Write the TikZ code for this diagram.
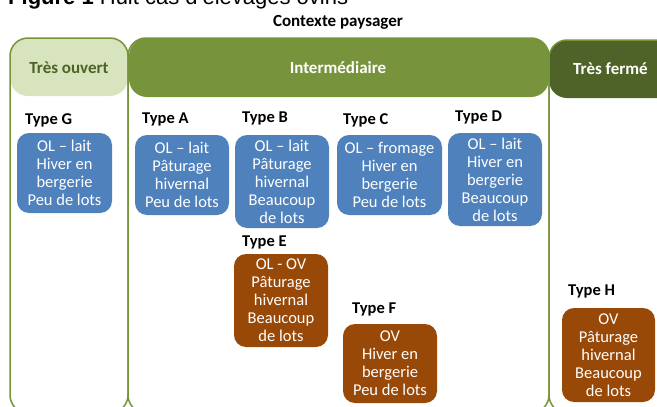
\documentclass[tikz,border=0pt]{standalone}
\usepackage{fontspec}
\setmainfont{Carlito}
\newfontfamily\titlefont{Liberation Sans}
\usetikzlibrary{positioning}
\definecolor{olive}{HTML}{77933C}
\definecolor{paleolive}{HTML}{D7E4BD}
\definecolor{darkolive}{HTML}{4F6228}
\definecolor{typeblue}{HTML}{4F81BD}
\definecolor{typebrown}{HTML}{984807}
\tikzset{column/.style={draw=olive,line width=1.5pt,rounded corners=18pt}}
\tikzset{header/.style={rounded corners=18pt}}
\tikzset{headtext/.style={font=\bfseries\fontsize{17}{18}\selectfont}}
\tikzset{typelabel/.style={anchor=west,inner sep=0pt,font=\bfseries\fontsize{16.5}{18}\selectfont}}
\tikzset{farm/.style={rounded corners=12pt,inner sep=0pt,align=center,text=white,font=\fontsize{16.5}{18}\selectfont}}
\tikzset{bluefarm/.style={farm,fill=typeblue}}
\tikzset{brownfarm/.style={farm,fill=typebrown}}

\begin{document}
\begin{tikzpicture}[x=1pt,y=-1pt]
    \useasboundingbox (0,0) rectangle (657,407);
    \clip (0,0) rectangle (657,407);

    % Title (cut at the top)
    \node [anchor=base west,inner sep=0pt,font=\titlefont\fontsize{22}{26}\selectfont] (title) at (8,4) {\textbf{Figure 1} Huit cas d’élevages ovins};
    \node [headtext] (context) at (338,22) {Contexte paysager};

    % Headers
    \fill [paleolive,header] (10,38) rectangle (128,96);
    \fill [olive,header] (129,38) rectangle (549,97);
    \fill [darkolive,header] (549,40) rectangle (690,98);

    % Columns
    \draw [column] (10,38) rectangle (128,413);
    \draw [column] (128,38) rectangle (549,413);
    \draw [column] (549,40) rectangle (690,413);

    \node [headtext,text=darkolive] (open) at (69,68) {Très ouvert};
    \node [headtext,text=white] (middle) at (338,68) {Intermédiaire};
    \node [headtext,text=white] (closed) at (610.5,69) {Très fermé};

    % Type labels
    \node [typelabel] (labelG) at (25,120) {Type G};
    \node [typelabel] (labelA) at (142,119) {Type A};
    \node [typelabel] (labelB) at (242,118) {Type B};
    \node [typelabel] (labelC) at (343,120) {Type C};
    \node [typelabel] (labelD) at (455,117) {Type D};
    \node [typelabel] (labelE) at (242,242) {Type E};
    \node [typelabel] (labelF) at (352,309) {Type F};
    \node [typelabel] (labelH) at (568,291) {Type H};

    % Farms
    \node [bluefarm,minimum width=95,minimum height=80] (typeG) at (64.5,173) {OL – lait\\Hiver en\\bergerie\\Peu de lots};
    \node [bluefarm,minimum width=94,minimum height=80] (typeA) at (182,175) {OL – lait\\Pâturage\\hivernal\\Peu de lots};
    \node [bluefarm,minimum width=94,minimum height=93] (typeB) at (282,181.5) {OL – lait\\Pâturage\\hivernal\\Beaucoup\\de lots};
    \node [bluefarm,minimum width=105,minimum height=80] (typeC) at (389.5,175) {OL – fromage\\Hiver en\\bergerie\\Peu de lots};
    \node [bluefarm,minimum width=94,minimum height=93] (typeD) at (495,179.5) {OL – lait\\Hiver en\\bergerie\\Beaucoup\\de lots};
    \node [brownfarm,minimum width=94,minimum height=93] (typeE) at (281,300.5) {OL - OV\\Pâturage\\hivernal\\Beaucoup\\de lots};
    \node [brownfarm,minimum width=94,minimum height=79] (typeF) at (390,363.5) {OV\\Hiver en\\bergerie\\Peu de lots};
    \node [brownfarm,minimum width=93,minimum height=94] (typeH) at (608.5,355) {OV\\Pâturage\\hivernal\\Beaucoup\\de lots};
\end{tikzpicture}
\end{document}
